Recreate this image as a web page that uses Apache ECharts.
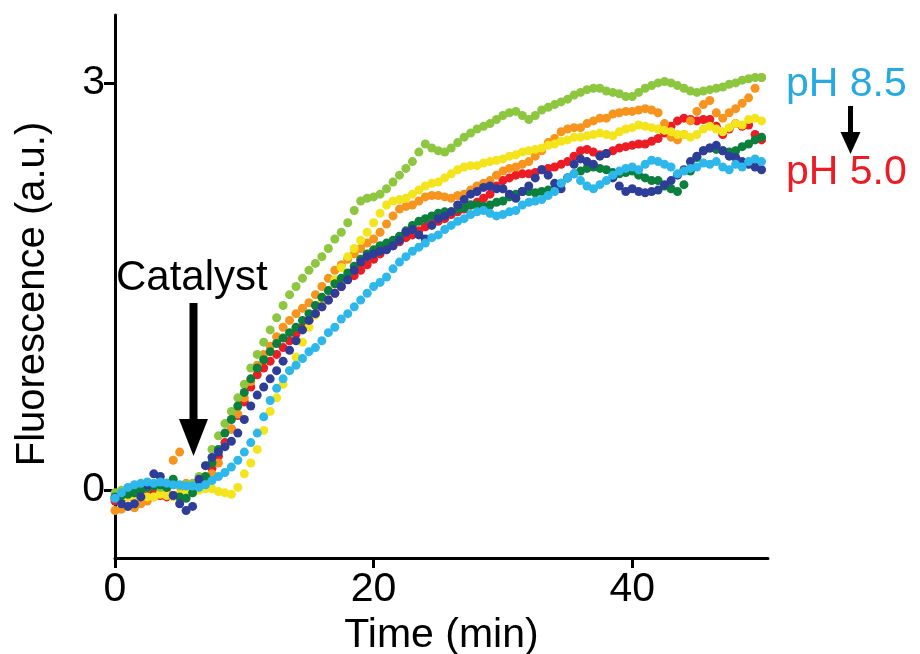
<!DOCTYPE html>
<html><head><meta charset="utf-8">
<script src="https://cdn.jsdelivr.net/npm/echarts@6/dist/echarts.min.js"></script>
<style>html,body{margin:0;padding:0;background:#fff}#c{width:920px;height:654px}</style>
</head><body><div id="c"></div>
<script>
// sampling interval of the traces (min)
const timeStep = 0.5;

// Fluorescence (a.u.) traces, one value every 0.5 min from 0 to 50 min
const lightBlue = [-0.06,-0.02,0.02,0.04,0.05,0.06,0.05,0.06,0.05,0.04,
 0.04,0.03,0.03,0.02,0.04,0.07,0.10,0.13,0.17,0.22,
 0.28,0.35,0.42,0.54,0.66,0.75,0.82,0.88,0.92,0.97,
 1.02,1.05,1.10,1.16,1.20,1.26,1.30,1.35,1.40,1.45,
 1.50,1.53,1.57,1.63,1.68,1.72,1.76,1.79,1.82,1.86,
 1.88,1.92,1.95,1.98,2.00,2.03,2.05,2.06,2.04,2.02,
 2.03,2.05,2.06,2.10,2.12,2.13,2.14,2.17,2.20,2.26,
 2.30,2.33,2.28,2.24,2.22,2.25,2.28,2.32,2.35,2.37,
 2.38,2.36,2.40,2.43,2.42,2.40,2.38,2.33,2.35,2.37,
 2.38,2.41,2.40,2.42,2.38,2.36,2.40,2.38,2.42,2.44,
 2.42];
const darkBlue = [-0.06,-0.10,-0.12,-0.10,-0.05,0.04,0.12,0.10,0.05,-0.04,
 -0.10,-0.15,-0.12,0.08,0.18,0.24,0.28,0.32,0.36,0.42,
 0.52,0.62,0.70,0.76,0.82,0.88,0.95,1.03,1.10,1.18,
 1.25,1.30,1.35,1.40,1.45,1.50,1.55,1.62,1.68,1.72,
 1.74,1.76,1.77,1.80,1.84,1.90,1.92,1.88,1.85,1.95,
 2.00,2.02,2.05,2.10,2.14,2.18,2.20,2.23,2.24,2.22,
 2.22,2.18,2.15,2.20,2.24,2.30,2.36,2.32,2.26,2.22,
 2.30,2.40,2.44,2.42,2.40,2.46,2.48,2.30,2.24,2.20,
 2.22,2.20,2.19,2.20,2.21,2.25,2.28,2.32,2.36,2.42,
 2.46,2.50,2.52,2.54,2.50,2.46,2.45,2.42,2.40,2.38,
 2.36];
const darkGreen = [-0.05,-0.04,-0.03,-0.02,0.00,0.02,0.03,0.04,0.02,0.08,
 -0.05,-0.06,-0.02,0.04,0.10,0.20,0.30,0.42,0.52,0.62,
 0.72,0.82,0.90,0.96,1.02,1.08,1.12,1.16,1.20,1.25,
 1.30,1.36,1.42,1.47,1.52,1.56,1.60,1.65,1.70,1.74,
 1.77,1.80,1.82,1.84,1.87,1.91,1.95,1.98,2.00,2.02,
 2.04,2.05,2.05,2.07,2.08,2.10,2.10,2.09,2.10,2.12,
 2.13,2.16,2.18,2.20,2.20,2.19,2.20,2.21,2.22,2.26,
 2.30,2.33,2.35,2.37,2.38,2.37,2.36,2.34,2.33,2.34,
 2.35,2.32,2.30,2.28,2.28,2.24,2.22,2.20,2.25,2.35,
 2.45,2.50,2.52,2.51,2.50,2.49,2.50,2.53,2.55,2.58,
 2.60];
const lightGreen = [-0.02,0.00,0.00,0.01,0.02,0.03,0.03,0.02,0.02,0.04,
 0.03,0.04,0.05,0.10,0.18,0.30,0.40,0.49,0.58,0.68,
 0.78,0.90,1.00,1.09,1.18,1.27,1.36,1.44,1.50,1.56,
 1.62,1.67,1.72,1.78,1.85,1.90,1.97,2.06,2.13,2.15,
 2.16,2.18,2.22,2.27,2.32,2.37,2.42,2.49,2.55,2.52,
 2.50,2.49,2.52,2.56,2.60,2.63,2.66,2.68,2.70,2.73,
 2.76,2.78,2.79,2.76,2.73,2.76,2.80,2.82,2.84,2.86,
 2.88,2.91,2.93,2.95,2.96,2.96,2.94,2.93,2.92,2.90,
 2.90,2.93,2.96,2.98,3.00,3.01,3.00,2.98,2.96,2.94,
 2.93,2.94,2.95,2.96,2.97,2.99,3.00,3.02,3.03,3.04,
 3.04];
const yellow = [-0.06,-0.05,-0.05,-0.04,-0.04,-0.05,-0.05,-0.03,-0.04,-0.05,
 -0.03,-0.02,-0.02,0.00,0.01,0.01,-0.01,-0.02,-0.03,0.02,
 0.12,0.20,0.30,0.44,0.58,0.68,0.78,0.88,0.98,1.09,
 1.20,1.29,1.38,1.47,1.55,1.64,1.72,1.78,1.84,1.90,
 1.97,2.04,2.10,2.13,2.14,2.15,2.18,2.21,2.24,2.26,
 2.27,2.30,2.33,2.36,2.38,2.39,2.39,2.41,2.42,2.43,
 2.44,2.46,2.47,2.49,2.50,2.51,2.52,2.54,2.55,2.57,
 2.58,2.60,2.60,2.61,2.62,2.63,2.62,2.61,2.64,2.66,
 2.67,2.69,2.68,2.67,2.66,2.65,2.64,2.62,2.62,2.60,
 2.62,2.66,2.68,2.66,2.64,2.67,2.70,2.69,2.73,2.74,
 2.72];
const orange = [-0.15,-0.14,-0.12,-0.13,-0.10,-0.08,-0.05,-0.02,0.00,0.22,
 0.28,0.05,0.00,0.02,0.05,0.12,0.20,0.32,0.45,0.56,
 0.68,0.80,0.92,1.00,1.06,1.13,1.20,1.25,1.30,1.34,
 1.38,1.44,1.50,1.56,1.62,1.66,1.70,1.74,1.78,1.82,
 1.85,1.90,1.96,2.02,2.07,2.09,2.10,2.13,2.16,2.17,
 2.17,2.16,2.15,2.17,2.18,2.21,2.24,2.26,2.28,2.32,
 2.35,2.37,2.38,2.40,2.42,2.46,2.50,2.56,2.59,2.64,
 2.66,2.67,2.67,2.70,2.72,2.74,2.74,2.77,2.78,2.79,
 2.79,2.80,2.81,2.80,2.78,2.70,2.60,2.58,2.62,2.72,
 2.79,2.84,2.87,2.78,2.74,2.78,2.81,2.85,2.89,2.96,
 3.04];
const red = [-0.08,-0.06,-0.05,-0.03,-0.03,-0.04,-0.02,-0.04,-0.05,-0.04,
 -0.03,-0.01,0.00,0.04,0.08,0.16,0.25,0.35,0.45,0.55,
 0.65,0.76,0.85,0.90,0.95,1.00,1.05,1.10,1.15,1.20,
 1.25,1.30,1.35,1.40,1.45,1.50,1.55,1.58,1.62,1.66,
 1.70,1.74,1.78,1.80,1.83,1.86,1.88,1.91,1.94,1.96,
 1.98,2.00,2.03,2.05,2.07,2.10,2.12,2.15,2.18,2.24,
 2.28,2.30,2.32,2.33,2.33,2.34,2.36,2.37,2.38,2.40,
 2.42,2.46,2.50,2.51,2.49,2.47,2.48,2.50,2.52,2.53,
 2.54,2.55,2.55,2.57,2.59,2.63,2.68,2.72,2.74,2.73,
 2.72,2.73,2.73,2.68,2.62,2.66,2.70,2.68,2.69,2.62,
 2.58];

const xTicks = [0, 20, 40];
const yTicks = [0, 3];

const FONT = '"Liberation Sans", Arial, Helvetica, sans-serif';
const traces = [
  { name: 'red', color: '#ed1c24', values: red },
  { name: 'orange', color: '#f7941d', values: orange },
  { name: 'yellow', color: '#f4e41c', values: yellow },
  { name: 'lightGreen', color: '#8dc63f', values: lightGreen },
  { name: 'darkGreen', color: '#0b7f3c', values: darkGreen },
  { name: 'darkBlue', color: '#2e3d98', values: darkBlue },
  { name: 'lightBlue', color: '#2db7ea', values: lightBlue }
];
function toPairs(vals) { return vals.map((v, i) => [i * timeStep, v]); }

const chart = echarts.init(document.getElementById('c'), null, { renderer: 'canvas' });
const axisCommon = {
  axisLine: { show: true, onZero: false, lineStyle: { color: '#000', width: 3 } },
  splitLine: { show: false }
};
chart.setOption({
  animation: false,
  backgroundColor: '#fff',
  grid: { left: 115, right: 152, top: 15, bottom: 96, containLabel: false, outerBoundsMode: 'none' },
  xAxis: Object.assign({}, axisCommon, {
    type: 'value', min: 0, max: 50.5,
    name: 'Time (min)', nameLocation: 'middle', nameGap: 50,
    nameTextStyle: { fontSize: 41, color: '#000', fontFamily: FONT },
    axisTick: { show: true, length: 10, customValues: xTicks, lineStyle: { color: '#000', width: 3 } },
    axisLabel: { customValues: xTicks, fontSize: 41, color: '#000', fontFamily: FONT, margin: 11 }
  }),
  yAxis: Object.assign({}, axisCommon, {
    type: 'value', min: -0.5, max: 3.5,
    axisTick: { show: true, length: 11, customValues: yTicks, lineStyle: { color: '#000', width: 3 } },
    axisLabel: { customValues: yTicks, fontSize: 41, color: '#000', fontFamily: FONT, margin: 10 }
  }),
  series: traces.map(t => ({
    type: 'scatter', name: t.name, data: toPairs(t.values),
    symbol: 'circle', symbolSize: 9,
    itemStyle: { color: t.color, opacity: 1 },
    silent: true
  })),
  graphic: [
    { type: 'text', x: 33, y: 294, rotation: Math.PI / 2,
      style: { text: 'Fluorescence (a.u.)', fontSize: 40, fontFamily: FONT, fill: '#000', align: 'center', verticalAlign: 'middle' } },
    { type: 'text', left: 116, top: 257, style: { text: 'Catalyst', fontSize: 42, fontFamily: FONT, fill: '#000' } },
    { type: 'rect', shape: { x: 189.5, y: 303, width: 8, height: 120 }, style: { fill: '#000' } },
    { type: 'polygon', shape: { points: [[179, 419], [208, 419], [193.5, 456]] }, style: { fill: '#000' } },
    { type: 'text', left: 786, top: 64, style: { text: 'pH 8.5', fontSize: 41, fontFamily: FONT, fill: '#27aae1' } },
    { type: 'text', left: 786, top: 152, style: { text: 'pH 5.0', fontSize: 41, fontFamily: FONT, fill: '#ed1c24' } },
    { type: 'rect', shape: { x: 848, y: 106, width: 5, height: 30 }, style: { fill: '#000' } },
    { type: 'polygon', shape: { points: [[840.5, 132], [860.5, 132], [850.5, 154]] }, style: { fill: '#000' } }
  ]
});
</script>
</body></html>
